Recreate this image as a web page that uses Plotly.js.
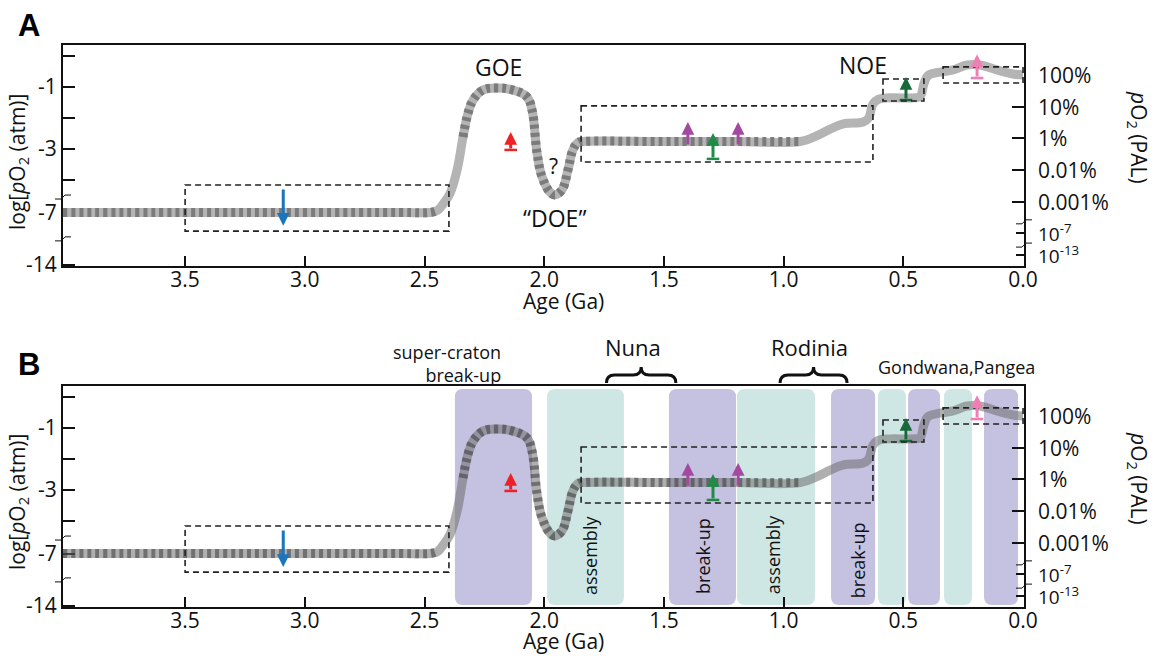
<!DOCTYPE html>
<html><head><meta charset="utf-8">
<script src="https://cdn.plot.ly/plotly-3.0.1.min.js"></script>
<style>html,body{margin:0;padding:0;background:#fff}#chart{width:1156px;height:664px}</style>
</head><body><div id="chart"></div>
<script>
// ---------------- data (ages in Ga, levels in the schematic's axis units) ----------------
const curveAge = [4.01,3.5,3.0,2.6,2.47,2.445,2.42,2.393,2.364,2.339,2.318,2.297,2.256,2.197,2.13,2.072,2.051,2.03,2.009,1.976,1.955,1.926,1.901,1.88,1.859,1.838,1.5,1.2,0.93,0.87,0.806,0.75,0.668,0.645,0.627,0.605,0.556,0.459,0.43,0.414,0.397,0.347,0.292,0.234,0.18,0.109,0.042,0.0];
const curveLevel = [-5.05,-5.05,-5.05,-5.05,-5.04,-4.98,-4.75,-4.42,-3.68,-2.61,-1.84,-1.42,-1.10,-1.03,-1.10,-1.32,-1.74,-3.13,-3.90,-4.39,-4.48,-4.32,-3.68,-3.03,-2.79,-2.76,-2.76,-2.76,-2.76,-2.6,-2.36,-2.19,-2.13,-2.0,-1.55,-1.4,-1.35,-1.35,-1.3,-0.9,-0.63,-0.52,-0.45,-0.29,-0.29,-0.45,-0.58,-0.61];
// age windows where the curve is drawn striped (well constrained)
const stripeFrom = [4.01, 2.339];
const stripeTo   = [2.445, 0.93];

const xTickVals = [3.5,3.0,2.5,2.0,1.5,1.0,0.5,0.0];
const xTickText = ['3.5','3.0','2.5','2.0','1.5','1.0','0.5','0.0'];
const leftTickVals = [0,-1,-2,-3,-4,-5.06,-6.74];
const leftTickText = ['','-1','','-3','','-7','-14'];
const rightTickVals = [-1.645,-2.645,-3.68,-4.71];
const rightMinorVals = [-5.71,-6.42];
const rightLabelVals = [-0.61,-1.645,-2.645,-3.68,-4.71,-5.71,-6.42];
const rightLabelText = ['100%','10%','1%','0.01%','0.001%','10<sup>-7</sup>','10<sup>-13</sup>'];
const leftBreaks = [-4.55,-5.9];
const rightBreaks = [-5.35,-6.1];

// proxy constraint boxes
const boxAgeStart = [3.5, 1.846, 0.585, 0.334];
const boxAgeEnd   = [2.398, 0.627, 0.414, 0.0];
const boxTop      = [-4.16, -1.61, -0.74, -0.35];
const boxBottom   = [-5.65, -3.42, -1.45, -0.87];

// proxy arrows
const arrowAge   = [3.09, 2.14, 1.40, 1.19, 1.295, 0.489, 0.192];
const arrowTip   = [-5.48, -2.45, -2.13, -2.13, -2.48, -0.68, 0.06];
const arrowBase  = [-4.26, -3.03, -2.9, -2.9, -3.32, -1.42, -0.71];
const arrowColor = ['#1b75bc','#ec2227','#a3499f','#a3499f','#1e8c47','#17693a','#ef7fb3'];
const arrowBar   = [false, true, false, false, true, true, true];

// supercontinent bands (panel B)
const bandStart = [2.373, 1.988, 1.479, 1.195, 0.802, 0.606, 0.480, 0.330, 0.163];
const bandEnd   = [2.051, 1.667, 1.199, 0.869, 0.618, 0.489, 0.347, 0.213, 0.021];
const bandKind  = ['breakup','assembly','breakup','assembly','breakup','assembly','breakup','assembly','breakup'];
const bandLabelAge  = [1.809, 1.337, 1.044, 0.689];
const bandLabelText = ['assembly','break-up','assembly','break-up'];
const bandLabelLev  = [-5.10, -5.13, -5.10, -5.26];

// ---------------- geometry helpers ----------------
const L = 63, T = 45, PW = 961, PH = 562;
const pxX = px => (px - L) / PW;
const pxY = py => (T + PH - py) / PH;
const GA_PX = 239.4, LEV_PX = 31;
const FONT = 'Open Sans, Arial, sans-serif';
const BLACK = '#111';

function stripeY() {
  return curveAge.map((a, i) => {
    for (let k = 0; k < stripeFrom.length; k++) {
      if (a <= stripeFrom[k] + 1e-9 && a >= stripeTo[k] - 1e-9) return curveLevel[i];
    }
    return null;
  });
}

function panelTraces(xa, ya, solidCol, dashCol) {
  const t = [];
  t.push({x: curveAge, y: curveLevel, xaxis: xa, yaxis: ya, type: 'scatter', mode: 'lines',
    line: {color: solidCol, width: 9, shape: 'spline', smoothing: 1.15}, hoverinfo: 'skip', showlegend: false});
  t.push({x: curveAge, y: stripeY(), xaxis: xa, yaxis: ya, type: 'scatter', mode: 'lines', connectgaps: false,
    line: {color: dashCol, width: 9, shape: 'spline', smoothing: 1.15, dash: '4px,4px'}, hoverinfo: 'skip', showlegend: false});
  const bx = [], by = [], bc = [];
  arrowAge.forEach((a, i) => { if (arrowBar[i]) { bx.push(a); by.push(arrowBase[i]); bc.push(arrowColor[i]); } });
  t.push({x: bx, y: by, xaxis: xa, yaxis: ya, type: 'scatter', mode: 'markers',
    marker: {symbol: 'line-ew', size: 9, line: {width: 2.5, color: bc}}, hoverinfo: 'skip', showlegend: false});
  return t;
}

function panelShapes(xa, ya) {
  const s = [];
  boxAgeStart.forEach((a, i) => s.push({type: 'rect', xref: xa, yref: ya, x0: a, x1: boxAgeEnd[i],
    y0: boxTop[i], y1: boxBottom[i], line: {color: '#222', width: 1.6, dash: '6px,4px'}, layer: 'above'}));
  const mk = (xp, lev, yr) => {
    const dx = 1 / PW, dy = 1 / LEV_PX;
    const pts = [[-8, -2], [-2, -2], [2, 2], [8, 2]];
    let p = '';
    pts.forEach((q, k) => { p += (k ? ' L ' : 'M ') + (xp + q[0] * dx).toFixed(5) + ',' + (lev + q[1] * dy).toFixed(4); });
    return {type: 'path', xref: 'paper', yref: yr, path: p, line: {color: BLACK, width: 1}, layer: 'above'};
  };
  leftBreaks.forEach(v => s.push(mk(0, v, ya)));
  rightBreaks.forEach(v => s.push(mk(1, v, ya)));
  return s;
}

function panelAnnotations(xa, ya) {
  const a = [];
  arrowAge.forEach((x, i) => a.push({x: x, y: arrowTip[i], ax: x, ay: arrowBase[i], xref: xa, yref: ya,
    axref: xa, ayref: ya, text: '', showarrow: true, arrowhead: 2, arrowsize: 0.85, arrowwidth: 3,
    arrowcolor: arrowColor[i], standoff: 0}));
  rightLabelVals.forEach((v, i) => a.push({x: pxX(1036), y: v, xref: 'paper', yref: ya, text: rightLabelText[i],
    showarrow: false, xanchor: 'left', yanchor: 'middle',
    font: {family: FONT, size: i >= 5 ? 19 : 21, color: BLACK}}));
  return a;
}

// ---------------- traces ----------------
const data = [].concat(
  panelTraces('x', 'y', '#b4b4b4', '#7b7b7b'),
  panelTraces('x2', 'y2', 'rgba(110,110,110,0.55)', 'rgba(60,60,60,0.55)'),
  [{x: [], y: [], xaxis: 'x', yaxis: 'y3', type: 'scatter', showlegend: false},
   {x: [], y: [], xaxis: 'x2', yaxis: 'y4', type: 'scatter', showlegend: false}]
);

// ---------------- shapes ----------------
let shapes = [].concat(panelShapes('x', 'y'), panelShapes('x2', 'y2'));
const rx = 8 / GA_PX, ry = 8 / LEV_PX, bTop = 0.26, bBot = -6.71;
bandStart.forEach((a, i) => {
  const b = bandEnd[i];
  const p = `M ${a - rx},${bTop} L ${b + rx},${bTop} Q ${b},${bTop} ${b},${bTop - ry} L ${b},${bBot + ry} Q ${b},${bBot} ${b + rx},${bBot} L ${a - rx},${bBot} Q ${a},${bBot} ${a},${bBot + ry} L ${a},${bTop - ry} Q ${a},${bTop} ${a - rx},${bTop} Z`;
  shapes.push({type: 'path', xref: 'x2', yref: 'y2', path: p, fillcolor: bandKind[i] === 'breakup' ? '#c5c1e0' : '#cfe7e4',
    line: {width: 0}, layer: 'below'});
});
function brace(a, b) {
  const m = (a + b) / 2, d = 8 / GA_PX;
  const yE = pxY(383), yA = pxY(375), yP = pxY(367);
  return {type: 'path', xref: 'x2', yref: 'paper', line: {color: BLACK, width: 3},
    path: `M ${a},${yE} Q ${a},${yA} ${a - d},${yA} L ${m + d},${yA} Q ${m},${yA} ${m},${yP} Q ${m},${yA} ${m - d},${yA} L ${b + d},${yA} Q ${b},${yA} ${b},${yE}`};
}
shapes.push(brace(1.74, 1.45));
shapes.push(brace(1.015, 0.735));

// ---------------- annotations ----------------
const f = (s, extra) => Object.assign({family: FONT, size: s, color: BLACK}, extra || {});
const C = {xanchor: 'center', yanchor: 'middle', showarrow: false};
let ann = [].concat(panelAnnotations('x', 'y'), panelAnnotations('x2', 'y2'));
ann.push(
  Object.assign({x: 2.193, y: -0.35, xref: 'x', yref: 'y', text: 'GOE', font: f(23)}, C),
  Object.assign({x: 1.963, y: -3.55, xref: 'x', yref: 'y', text: '?', font: f(21)}, C),
  Object.assign({x: 1.955, y: -5.23, xref: 'x', yref: 'y', text: '\u201cDOE\u201d', font: f(23)}, C),
  Object.assign({x: 0.668, y: -0.29, xref: 'x', yref: 'y', text: 'NOE', font: f(23)}, C)
);
bandLabelAge.forEach((x, i) => ann.push(Object.assign({x: x, y: bandLabelLev[i], xref: 'x2', yref: 'y2', text: bandLabelText[i],
  textangle: -90, font: f(18)}, C)));
ann.push(
  {x: 2.172, y: pxY(363), xref: 'x2', yref: 'paper', text: 'super-craton<br>break-up', align: 'right', xanchor: 'right',
   yanchor: 'middle', showarrow: false, font: f(18)},
  Object.assign({x: 1.629, y: pxY(347), xref: 'x2', yref: 'paper', text: 'Nuna', font: f(22)}, C),
  Object.assign({x: 0.89, y: pxY(347), xref: 'x2', yref: 'paper', text: 'Rodinia', font: f(22)}, C),
  Object.assign({x: 0.276, y: pxY(367), xref: 'x2', yref: 'paper', text: 'Gondwana,Pangea', font: f(18)}, C)
);
[[26, 'A'], [365, 'B']].forEach(p => ann.push(Object.assign({x: pxX(29), y: pxY(p[0]), xref: 'paper', yref: 'paper', text: '<b>' + p[1] + '</b>',
  font: {family: 'Liberation Sans, Arial, sans-serif', size: 31, color: '#000'}}, C)));
[162, 502].forEach(c => ann.push(Object.assign({x: pxX(18), y: pxY(c), xref: 'paper', yref: 'paper',
  text: 'log[<i>p</i>O<sub>2</sub> (atm)]', textangle: -90, font: f(21)}, C)));
[137, 478].forEach(c => ann.push(Object.assign({x: pxX(1138), y: pxY(c), xref: 'paper', yref: 'paper',
  text: '<i>p</i>O<sub>2</sub> (PAL)', textangle: 90, font: f(21)}, C)));
[301, 641].forEach(c => ann.push(Object.assign({x: pxX(563), y: pxY(c), xref: 'paper', yref: 'paper',
  text: 'Age (Ga)', font: f(21)}, C)));

// ---------------- axes ----------------
const xBase = {range: [4.01, -0.004], tickmode: 'array', tickvals: xTickVals, ticktext: xTickText,
  ticks: 'inside', ticklen: 10, tickwidth: 2, tickcolor: BLACK, showline: true, linewidth: 2, linecolor: BLACK,
  mirror: true, showgrid: false, zeroline: false, tickfont: f(21), fixedrange: true, layer: 'below traces',
  ticklabelstandoff: -6};
const yBase = {range: [-6.774, 0.355], tickmode: 'array', tickvals: leftTickVals, ticktext: leftTickText,
  ticks: 'inside', ticklen: 12, tickwidth: 2, tickcolor: BLACK, showline: true, linewidth: 2, linecolor: BLACK,
  mirror: true, showgrid: false, zeroline: false, tickfont: f(21), fixedrange: true, layer: 'below traces'};
const yRight = {range: [-6.774, 0.355], side: 'right', tickmode: 'array', tickvals: rightTickVals,
  ticktext: rightTickVals.map(() => ''), ticks: 'inside', ticklen: 12, tickwidth: 2, tickcolor: BLACK,
  minor: {tickmode: 'array', tickvals: rightMinorVals, ticks: 'inside', ticklen: 8, tickwidth: 2, tickcolor: BLACK},
  showline: false, showgrid: false, zeroline: false, fixedrange: true};

const layout = {
  width: 1156, height: 664, margin: {l: 63, r: 132, t: 45, b: 57},
  paper_bgcolor: '#fff', plot_bgcolor: 'rgba(0,0,0,0)', showlegend: false,
  font: {family: FONT, color: BLACK},
  xaxis: Object.assign({}, xBase, {anchor: 'y'}),
  xaxis2: Object.assign({}, xBase, {anchor: 'y2'}),
  yaxis: Object.assign({}, yBase, {domain: [0.6068, 1], anchor: 'x'}),
  yaxis2: Object.assign({}, yBase, {domain: [0, 0.3932], anchor: 'x2'}),
  yaxis3: Object.assign({}, yRight, {overlaying: 'y', anchor: 'x'}),
  yaxis4: Object.assign({}, yRight, {overlaying: 'y2', anchor: 'x2'}),
  shapes: shapes, annotations: ann
};

Plotly.newPlot('chart', data, layout, {staticPlot: true, displayModeBar: false});
</script></body></html>
